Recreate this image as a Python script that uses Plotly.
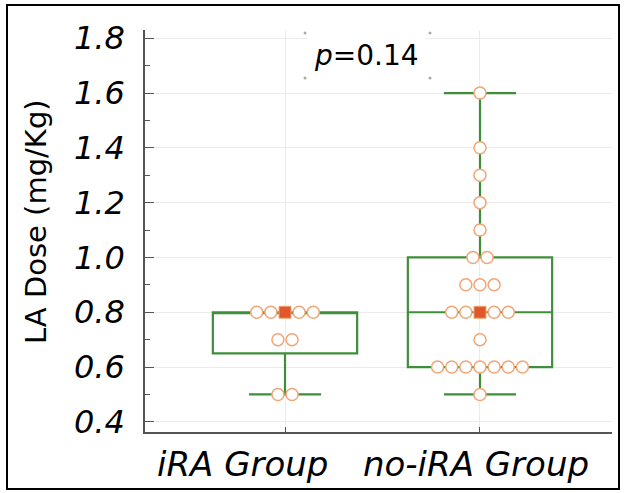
import numpy as np
import plotly.graph_objects as go

# ---- data ----
categories = ["iRA Group", "no-iRA Group"]
ira_values = [0.8, 0.8, 0.8, 0.8, 0.8, 0.7, 0.7, 0.5, 0.5]
noira_values = [1.6, 1.4, 1.3, 1.2, 1.1, 1.0, 1.0, 0.9, 0.9, 0.9,
                0.8, 0.8, 0.8, 0.8, 0.8, 0.7,
                0.6, 0.6, 0.6, 0.6, 0.6, 0.6, 0.6, 0.5]
box_q1 = [0.65, 0.6]
box_median = [0.8, 0.8]
box_q3 = [0.8, 1.0]
box_lower = [0.5, 0.5]
box_upper = [0.8, 1.6]
y_ticks = [0.4, 0.6, 0.8, 1.0, 1.2, 1.4, 1.6, 1.8]
p_text = "<i>p</i>=0.14"

GREEN = "#3f8f3a"
ORANGE = "#f0a676"
RED = "#e2572a"
FONT = "DejaVu Sans"

fig = go.Figure()

# boxes
for i, cat in enumerate(categories):
    fig.add_trace(go.Box(
        x=[i], q1=[box_q1[i]], median=[box_median[i]], q3=[box_q3[i]],
        lowerfence=[box_lower[i]], upperfence=[box_upper[i]],
        width=0.74, whiskerwidth=0.5,
        line=dict(color=GREEN, width=2.2), fillcolor="rgba(0,0,0,0)",
        boxpoints=False, name=cat, hoverinfo="skip",
    ))

# dot swarm
step = 0.0725
for i, vals in enumerate([ira_values, noira_values]):
    med = float(np.median(vals))
    ox, oy, sx, sy = [], [], [], []
    uniq = sorted(set(vals))
    for v in uniq:
        n = vals.count(v)
        for k in range(n):
            xpos = i + (k - (n - 1) / 2) * step
            if abs(v - med) < 1e-9 and n % 2 == 1 and k == (n - 1) // 2:
                sx.append(xpos); sy.append(v)
            else:
                ox.append(xpos); oy.append(v)
    fig.add_trace(go.Scatter(
        x=ox, y=oy, mode="markers",
        marker=dict(symbol="circle", size=12, color="white",
                    line=dict(color=ORANGE, width=1.5)),
        hoverinfo="skip"))
    fig.add_trace(go.Scatter(
        x=sx, y=sy, mode="markers",
        marker=dict(symbol="square", size=12, color=RED,
                    line=dict(color=ORANGE, width=1)),
        hoverinfo="skip"))

L, R, T, B = 145, 12, 30, 61
W, H = 624, 493
pw, ph = W - L - R, H - T - B

def px(x):
    return (x - L) / pw

def py(y):
    return (H - B - y) / ph

fig.update_layout(
    width=W, height=H,
    margin=dict(l=L, r=R, t=T, b=B, autoexpand=False),
    paper_bgcolor="white", plot_bgcolor="white",
    showlegend=False,
    xaxis=dict(
        range=[-0.718, 1.677], tickvals=[0, 1], ticktext=["", ""],
        showgrid=True, gridcolor="#ebebeb", gridwidth=1,
        showline=True, linecolor="#555555", linewidth=1.5,
        ticks="inside", ticklen=5, tickcolor="#555555",
        zeroline=False, automargin=False,
    ),
    yaxis=dict(
        range=[0.363, 1.83], tickvals=y_ticks,
        ticktext=[f"{v:.1f}" for v in y_ticks],
        showgrid=True, gridcolor="#ebebeb", gridwidth=1,
        showline=True, linecolor="#555555", linewidth=1.5,
        ticks="inside", ticklen=9, tickcolor="#555555",
        minor=dict(ticks="inside", ticklen=5, dtick=0.1, tick0=0.4,
                   tickcolor="#555555", showgrid=False),
        tickfont=dict(family=FONT, size=32, color="black", style="italic"),
        ticklabelstandoff=12, zeroline=False, automargin=False,
    ),
)

# category labels (placed as in the reference, not centred on ticks)
for label, cx in zip(categories, [242, 476]):
    fig.add_annotation(
        text=label, xref="paper", yref="paper",
        x=px(cx), y=py(464), xanchor="center", yanchor="middle",
        showarrow=False,
        font=dict(family=FONT, size=34, color="black", style="italic"),
    )

# y-axis title
fig.add_annotation(
    text="LA Dose (mg/Kg)", xref="paper", yref="paper",
    x=px(36), y=py(222), xanchor="center", yanchor="middle",
    textangle=-90, showarrow=False,
    font=dict(family=FONT, size=29, color="black"),
)

# p value box
fig.add_annotation(
    text=p_text, xref="paper", yref="paper",
    x=px(366), y=py(55), xanchor="center", yanchor="middle",
    showarrow=False, bgcolor="white", borderpad=6,
    font=dict(family=FONT, size=28, color="black"),
)
for cx, cy in [(305, 33), (430, 33), (305, 78), (430, 78)]:
    fig.add_shape(type="circle", xref="paper", yref="paper",
                  x0=px(cx - 1.5), x1=px(cx + 1.5), y0=py(cy + 1.5), y1=py(cy - 1.5),
                  fillcolor="#aaaaaa", line=dict(width=0))

# outer frame
fig.add_shape(type="rect", xref="paper", yref="paper",
              x0=px(7), x1=px(619), y0=py(489), y1=py(5),
              line=dict(color="black", width=2), fillcolor="rgba(0,0,0,0)")

fig.write_html("out.html", config={"displayModeBar": False},
               post_script="document.body.style.margin='0';")
